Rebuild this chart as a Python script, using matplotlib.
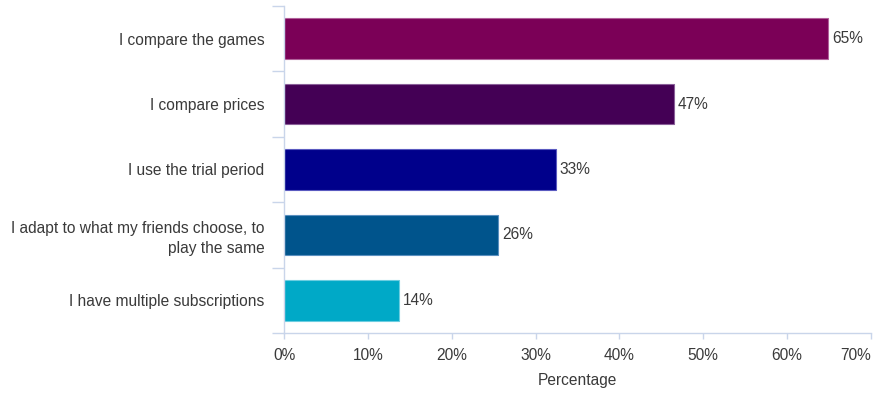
import matplotlib
matplotlib.use("Agg")
import matplotlib.pyplot as plt
import numpy as np

# values
categories = [
    "I compare the games",
    "I compare prices",
    "I use the trial period",
    "I adapt to what my friends choose, to\nplay the same",
    "I have multiple subscriptions",
]
values = [64.9, 46.5, 32.4, 25.5, 13.7]
labels = ["65%", "47%", "33%", "26%", "14%"]
colors = ["#7b0057", "#440055", "#00008b", "#00548c", "#00a9c7"]
edges = ["#b0609a", "#8a5f99", "#5a5ac0", "#5a8fbf", "#6ccde0"]
xticks = [0, 10, 20, 30, 40, 50, 60, 70]

plt.rcParams["font.family"] = ["Liberation Sans", "DejaVu Sans"]
text_col = "#3a3a3a"
axis_col = "#c9d5ea"
fs = 11.2

fig = plt.figure(figsize=(8.75, 3.93), dpi=100)
ax = fig.add_axes([0.3246, 0.1527, 0.6708, 0.8321])

y = np.arange(len(categories))
bars = ax.barh(y, values, height=0.62, color=colors, edgecolor=edges, linewidth=0.8)
for bar, lab in zip(bars, labels):
    ax.text(bar.get_width() + 0.5, bar.get_y() + bar.get_height() / 2, lab,
            ha="left", va="center", fontsize=fs, color=text_col)

ax.set_xlim(0, 70)
ax.set_ylim(len(categories) - 0.5, -0.5)
ax.set_xticks(xticks)
ax.set_xticklabels([f"{v}%" for v in xticks], fontsize=fs, color=text_col)
ax.get_xticklabels()[-1].set_horizontalalignment("right")
ax.set_yticks(y)
ax.set_yticklabels(categories, fontsize=fs, color=text_col, linespacing=1.4)
ax.set_yticks(np.arange(-0.5, len(categories)), minor=True)
ax.tick_params(axis="y", which="major", length=0, pad=14)
ax.tick_params(axis="y", which="minor", length=9, color=axis_col, width=1)
ax.tick_params(axis="x", length=4, color=axis_col, width=1, pad=7)
ax.set_xlabel("Percentage", fontsize=fs, color=text_col, labelpad=7)

for side in ["top", "right"]:
    ax.spines[side].set_visible(False)
for side in ["left", "bottom"]:
    ax.spines[side].set_color(axis_col)
    ax.spines[side].set_linewidth(1)

plt.savefig("out.png", dpi=100)
